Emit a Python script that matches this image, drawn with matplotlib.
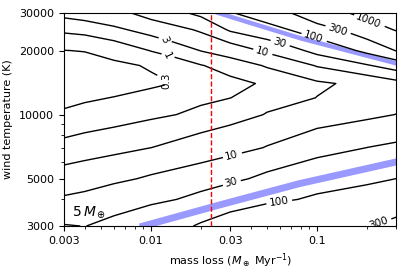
import numpy as np
import matplotlib.pyplot as plt

# grid
mass_loss = [0.003, 0.004, 0.006, 0.01, 0.02, 0.03, 0.05, 0.1, 0.2, 0.3]
wind_temp = [3000, 4000, 5000, 7000, 10000, 12000, 14000, 17000, 20000, 25000, 30000]

# log10 of the contoured quantity, one row per wind temperature
log_value = [
    [1.50, 1.47, 1.61, 1.80, 2.05, 2.23, 2.36, 2.45, 2.47, 2.575],
    [1.061, 1.12, 1.231, 1.383, 1.603, 1.761, 1.921, 2.07, 2.173, 2.252],
    [0.697, 0.783, 0.919, 1.065, 1.252, 1.396, 1.584, 1.785, 1.922, 2.003],
    [0.148, 0.22, 0.32, 0.475, 0.711, 0.844, 1.024, 1.303, 1.48, 1.555],
    [-0.425, -0.321, -0.233, -0.097, 0.133, 0.275, 0.508, 0.741, 0.90, 1.01],
    [-0.72, -0.613, -0.50, -0.35, -0.12, -0.006, 0.277, 0.486, 0.70, 0.78],
    [-0.98, -0.95, -0.85, -0.62, -0.31, -0.14, 0.083, 0.40, 0.66, 0.85],
    [-0.73, -0.715, -0.628, -0.465, -0.024, 0.223, 0.533, 1.044, 1.439, 1.733],
    [-0.53, -0.503, -0.311, 0.022, 0.496, 0.724, 1.126, 1.649, 2.141, 2.50],
    [0.105, 0.183, 0.384, 0.673, 1.078, 1.54, 1.816, 2.32, 2.788, 3.03],
    [0.64, 0.74, 0.85, 1.22, 1.60, 1.97, 2.29, 2.76, 3.19, 3.47],
]

levels = [0.3, 1, 3, 10, 30, 100, 300, 1000]
level_labels = ["0.3", "1", "3", "10", "30", "100", "300", "1000"]

# blue bands
upper_band_mdot = [0.0255, 0.04, 0.08, 0.3]
upper_band_temp = [30000, 26900, 22800, 17400]
lower_band_mdot = [0.009, 0.026, 0.078, 0.3]
lower_band_temp = [3000, 3770, 4740, 6000]

mdot_line = 0.023

xticks = [0.003, 0.01, 0.03, 0.1]
xticklabels = ["0.003", "0.01", "0.03", "0.1"]
yticks = [3000, 5000, 10000, 20000, 30000]
yticklabels = ["3000", "5000", "10000", "20000", "30000"]

fig = plt.figure(figsize=(4.07, 2.71), dpi=100)
ax = fig.add_axes([0.157, 0.166, 0.817, 0.786])
ax.set_xscale("log")
ax.set_yscale("log")

ax.plot(upper_band_mdot, upper_band_temp, color="#9999ff", lw=3.2,
        solid_capstyle="projecting", zorder=1)
ax.plot(lower_band_mdot, lower_band_temp, color="#9999ff", lw=5,
        solid_capstyle="projecting", zorder=1)

cs = ax.contour(mass_loss, wind_temp, log_value, levels=np.log10(levels),
                colors="k", linewidths=1.0, linestyles="solid", zorder=2)

# label spots (mass loss, temperature)
label_spots = [
    (0.0124, 14300), (0.01256, 18960), (0.01204, 22350),
    (0.0466, 19830), (0.0589, 21150), (0.093, 22350),
    (0.131, 24650), (0.204, 27480), (0.0303, 6510),
    (0.0303, 4800), (0.0589, 3900), (0.2346, 3100),
]
ax.clabel(cs, fmt=dict(zip(cs.levels, level_labels)), manual=label_spots,
          fontsize=7.5, inline_spacing=3)

# the labels on the left are drawn steep in the original
steep = {"3": -65, "1": -65, "0.3": 90}
for t in cs.labelTexts:
    if t.get_text() in steep:
        t.set_rotation(steep[t.get_text()])

ax.axvline(mdot_line, color="red", ls="--", lw=1, zorder=3)

ax.text(0.025, 0.03, r"5$\,M_\oplus$", transform=ax.transAxes, fontsize=10,
        ha="left", va="bottom")

ax.set_xlim(0.003, 0.3)
ax.set_ylim(3000, 30000)
ax.set_xticks(xticks)
ax.set_xticklabels(xticklabels)
ax.set_yticks(yticks)
ax.set_yticklabels(yticklabels)
ax.xaxis.set_minor_formatter(plt.NullFormatter())
ax.yaxis.set_minor_formatter(plt.NullFormatter())
ax.tick_params(labelsize=8)

ax.set_xlabel(r"mass loss ($M_\oplus$ Myr$^{-1}$)", fontsize=8)
ax.set_ylabel("wind temperature (K)", fontsize=8)

fig.savefig("out.png", dpi=100)
